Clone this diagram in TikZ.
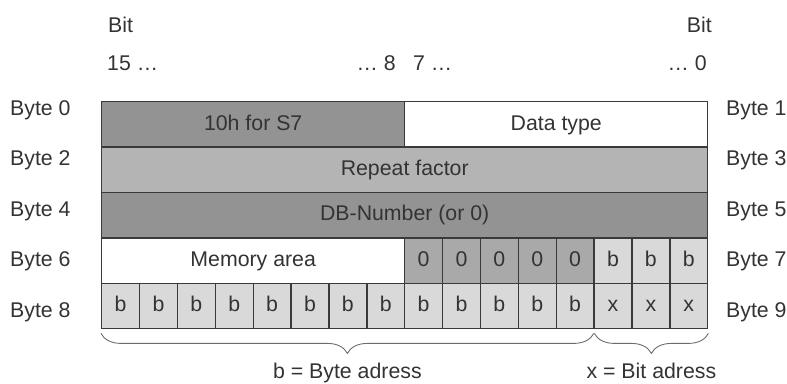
\documentclass[tikz,border=0pt]{standalone}
\usepackage{fontspec}
\setmainfont{Liberation Sans}
\usetikzlibrary{positioning,calc,decorations.pathreplacing}
\definecolor{DarkField}{HTML}{939393}
\definecolor{MidField}{HTML}{B4B4B4}
\definecolor{ZeroField}{HTML}{A9A9A9}
\definecolor{LightField}{HTML}{D9D9D9}
\definecolor{FrameGray}{HTML}{3A3A3A}
\definecolor{TextGray}{HTML}{333333}
\newcommand{\labelfont}{\fontsize{21.3}{25}\selectfont}

\begin{document}
\begin{tikzpicture}[x=1pt,y=-1pt,
    field/.style={draw=FrameGray,line width=1.4pt,inner sep=0pt,
      minimum height=45.4pt,anchor=north west,text=TextGray,
      text height=15.2pt,text depth=4pt,font=\labelfont},
    half/.style={field,minimum width=303pt},
    full/.style={field,minimum width=606pt},
    bitbox/.style={field,minimum width=37.875pt},
    bytelabel/.style={inner sep=0pt,text=TextGray,font=\labelfont},
    brace/.style={decorate,draw=FrameGray!75,line width=0.9pt,
      decoration={brace,mirror,amplitude=20pt}},
    bracelabel/.style={inner sep=0pt,text=TextGray,font=\labelfont,
      text height=15.2pt,text depth=4pt}
  ]
  \useasboundingbox (0,0) rectangle (787,383);

  % bit numbering above the table
  \node[bytelabel,anchor=base west] (bitHigh) at (108,32.5) {Bit};
  \node[bytelabel,anchor=base east] (bitLow) at (712,32.5) {Bit};
  \node[bytelabel,anchor=base west] (bit15) at (107,70) {15 \dots};
  \node[bytelabel,anchor=base east] (bit8) at (396,70) {\dots\ 8};
  \node[bytelabel,anchor=base west] (bit7) at (413,70) {7 \dots};
  \node[bytelabel,anchor=base east] (bit0) at (707,70) {\dots\ 0};

  % byte 0 to byte 5
  \node[half,fill=DarkField] (s7id) at (101,101) {10h for S7};
  \node[half,fill=white] (dtype) at (404,101) {Data type};
  \node[full,fill=MidField] (repeat) at (101,146.4) {Repeat factor};
  \node[full,fill=DarkField] (dbnum) at (101,191.8) {DB-Number (or 0)};

  % byte 6 and byte 7
  \node[half,fill=white] (area) at (101,237.2) {Memory area};
  \foreach \i in {8,...,12}
    \node[bitbox,fill=ZeroField] (zero\i) at ({101+37.875*\i},237.2) {0};
  \foreach \i in {13,14,15}
    \node[bitbox,fill=LightField] (high\i) at ({101+37.875*\i},237.2) {b};

  % byte 8 and byte 9
  \foreach \i in {0,...,12}
    \node[bitbox,fill=LightField] (low\i) at ({101+37.875*\i},282.6) {b};
  \foreach \i in {13,14,15}
    \node[bitbox,fill=LightField] (low\i) at ({101+37.875*\i},282.6) {x};

  % byte numbers at both sides
  \foreach \n [count=\k from 0] in {0,2,4,6,8}
    \node[bytelabel,anchor=base west] (left\n) at (10,{115+50.5*\k}) {Byte \n};
  \foreach \n [count=\k from 0] in {1,3,5,7,9}
    \node[bytelabel,anchor=base west] (right\n) at (726,{115+50.5*\k}) {Byte \n};

  % braces below
  \draw[brace] ([yshift=-4pt]low0.south west) -- ([yshift=-4pt,xshift=-1pt]low12.south east)
    node[bracelabel,midway,below=29pt] (byteadr) {b = Byte adress};
  \draw[brace] ([yshift=-4pt,xshift=1pt]low13.south west) -- ([yshift=-4pt]low15.south east)
    node[bracelabel,midway,below=29pt] (bitadr) {x = Bit adress};
\end{tikzpicture}
\end{document}
